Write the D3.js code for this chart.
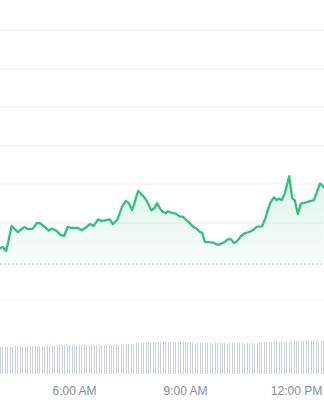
<!DOCTYPE html>
<html>
<head>
<meta charset="utf-8">
<script src="https://cdn.jsdelivr.net/npm/d3@7"></script>
<style>
  html, body { margin: 0; padding: 0; background: #ffffff; }
  svg { display: block; }
</style>
</head>
<body>
<div id="chart"></div>
<script>
// ---- data ----
const priceTimes = ["04:00","04:05","04:08","04:10","04:19","04:29","04:39","04:45","04:53","05:00",
  "05:05","05:13","05:19","05:24","05:31","05:39","05:44","05:50","05:55","06:06",
  "06:13","06:19","06:26","06:32","06:39","06:44","06:49","06:58","07:03","07:10",
  "07:18","07:24","07:29","07:34","07:37","07:44","07:49","07:53","07:58","08:05",
  "08:10","08:15","08:19","08:24","08:29","08:32","08:39","08:45","08:52","08:57",
  "09:02","09:08","09:13","09:19","09:24","09:28","09:32","09:39","09:45","09:54",
  "10:03","10:10","10:15","10:19","10:24","10:31","10:37","10:45","10:50","10:57",
  "11:05","11:10","11:18","11:24","11:29","11:32","11:37","11:42","11:49","11:54",
  "11:58","12:03","12:08","12:16","12:29","12:39","12:42","12:45"];
const priceValues = [1.0135,1.0137,1.0130,1.0127,1.0192,1.0176,1.0189,1.0184,1.0185,1.0200,
  1.0199,1.0189,1.0180,1.0185,1.0180,1.0168,1.0166,1.0190,1.0187,1.0187,
  1.0181,1.0188,1.0197,1.0192,1.0209,1.0205,1.0206,1.0209,1.0197,1.0207,
  1.0242,1.0257,1.0251,1.0233,1.0246,1.0283,1.0275,1.0268,1.0257,1.0233,
  1.0237,1.0251,1.0238,1.0229,1.0225,1.0230,1.0226,1.0224,1.0216,1.0216,
  1.0207,1.0199,1.0190,1.0185,1.0177,1.0174,1.0151,1.0150,1.0149,1.0143,
  1.0149,1.0158,1.0157,1.0148,1.0152,1.0166,1.0173,1.0177,1.0181,1.0190,
  1.0191,1.0211,1.0251,1.0266,1.0259,1.0263,1.0259,1.0277,1.0321,1.0263,
  1.0259,1.0223,1.0250,1.0253,1.0259,1.0302,1.0298,1.0292];
const volumeStart = "04:00";
const volumeStepMinutes = 4;
const volumeValues = [26.8,26.9,26.8,27.0,26.9,
  27.5,27.6,
  28.1,28.2,28.2,28.3,28.2,28.1,28.2,28.3,28.2,28.2,28.3,28.2,28.1,28.2,28.3,
  28.8,28.9,28.8,28.8,28.9,28.8,28.7,28.8,28.9,28.8,28.8,28.9,28.8,28.8,28.7,28.8,28.9,28.8,28.8,28.9,29.0,28.9,28.8,28.9,29.0,29.0,29.1,
  30.1,30.2,30.2,30.3,30.2,30.4,
  31.0,31.0,31.1,31.0,31.1,31.2,
  31.8,31.8,31.9,31.8,31.8,31.9,31.8,31.7,31.8,31.8,31.9,31.8,31.7,31.8,31.8,31.7,31.6,
  31.4,31.4,31.3,31.4,31.4,31.3,31.4,31.3,31.4,31.4,31.3,31.4,31.4,31.3,31.4,31.3,31.3,31.4,31.3,31.2,31.3,31.2,31.1,31.0,
  30.6,30.5,30.6,30.7,30.8,
  31.6,31.7,31.8,31.8,31.9,31.8,31.8,31.9,31.9,32.0,32.1,
  32.8,32.9,33.0,33.0,33.1,33.0,33.0,33.1,33.0,33.1,33.1,33.2,33.1,33.2];
const gridTicks = [1.00, 1.02, 1.03, 1.04, 1.05, 1.06, 1.07];
const referencePrice = 1.0093;
const timeTicks = ["06:00", "09:00", "12:00"];
const timeDomain = ["04:00", "12:45"];

// ---- chart ----
const W = 324, H = 400;
const parse = s => d3.timeParse("%Y-%m-%d %H:%M")("2024-01-01 " + s);

const price = priceTimes.map((t, i) => ({ t: parse(t), v: priceValues[i] }));
const vStart = parse(volumeStart);
const volume = volumeValues.map((v, i) => ({ t: d3.timeMinute.offset(vStart, i * volumeStepMinutes), v }));

const x = d3.scaleTime().domain(timeDomain.map(parse)).range([0, 323.75]);
const y = d3.scaleLinear().domain([1.00, 1.07]).range([300, 30]);
const yv = d3.scaleLinear().domain([0, 40]).range([374, 334]);

const svg = d3.select("#chart").append("svg").attr("width", W).attr("height", H);

const defs = svg.append("defs");
const grad = defs.append("linearGradient").attr("id", "fillGrad")
  .attr("gradientUnits", "userSpaceOnUse")
  .attr("x1", 0).attr("x2", 0)
  .attr("y1", y(d3.max(priceValues))).attr("y2", y(referencePrice));
grad.append("stop").attr("offset", "0%").attr("stop-color", "#2fbf7c").attr("stop-opacity", 0.17);
grad.append("stop").attr("offset", "100%").attr("stop-color", "#2fbf7c").attr("stop-opacity", 0.03);

// gridlines
svg.append("g").selectAll("line").data(gridTicks).join("line")
  .attr("x1", 0).attr("x2", W)
  .attr("y1", d => Math.round(y(d))).attr("y2", d => Math.round(y(d)))
  .attr("stroke", "#ededed").attr("stroke-width", 1);

// area fill
const area = d3.area().x(d => x(d.t)).y0(y(referencePrice)).y1(d => y(d.v)).curve(d3.curveLinear);
svg.append("path").datum(price).attr("d", area).attr("fill", "url(#fillGrad)");

// reference dashed line
svg.append("line")
  .attr("x1", 0).attr("x2", W)
  .attr("y1", y(referencePrice)).attr("y2", y(referencePrice))
  .attr("stroke", "#c9c9c9").attr("stroke-width", 1.2)
  .attr("stroke-dasharray", "1.5,2.5");

// price line
const line = d3.line().x(d => x(d.t)).y(d => y(d.v)).curve(d3.curveLinear);
svg.append("path").datum(price).attr("d", line)
  .attr("fill", "none").attr("stroke", "#2ec27e").attr("stroke-width", 2.3)
  .attr("stroke-linejoin", "round").attr("stroke-linecap", "round");

// volume bars
svg.append("g").attr("shape-rendering", "crispEdges").selectAll("rect").data(volume).join("rect")
  .attr("x", d => Math.round(x(d.t)))
  .attr("width", 1)
  .attr("y", d => Math.round(yv(d.v)))
  .attr("height", d => yv(0) - Math.round(yv(d.v)))
  .attr("fill", "#c9d2e3");

// x axis
const axis = d3.axisBottom(x)
  .tickValues(timeTicks.map(parse))
  .tickFormat(d3.timeFormat("%-I:%M %p"))
  .tickSize(0).tickPadding(3);
const gx = svg.append("g").attr("transform", "translate(0,383)").call(axis);
gx.select(".domain").remove();
gx.selectAll("text")
  .attr("fill", "#858d9b")
  .style("font-family", "'Liberation Sans', Arial, Helvetica, sans-serif")
  .style("font-size", "12px");
</script>
</body>
</html>
